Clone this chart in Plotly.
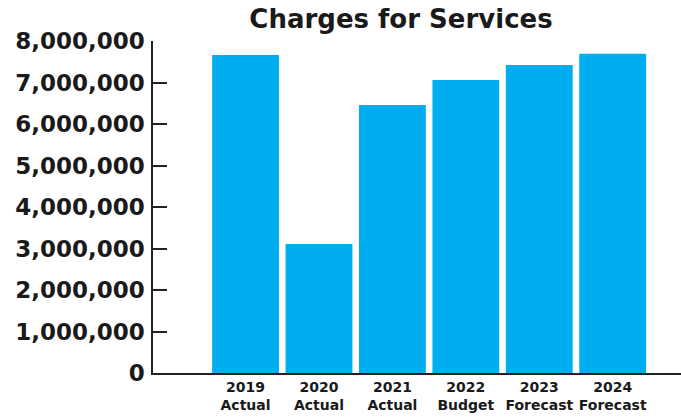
import plotly.graph_objects as go

years = ["2019", "2020", "2021", "2022", "2023", "2024"]
kinds = ["Actual", "Actual", "Actual", "Budget", "Forecast", "Forecast"]
values = [7660000, 3110000, 6460000, 7060000, 7420000, 7690000]
yticks = [0, 1000000, 2000000, 3000000, 4000000, 5000000, 6000000, 7000000, 8000000]
ytick_text = ["0", "1,000,000", "2,000,000", "3,000,000", "4,000,000",
              "5,000,000", "6,000,000", "7,000,000", "8,000,000"]

cats = [f"{y}<br>{k}" for y, k in zip(years, kinds)]

fig = go.Figure(go.Bar(x=cats, y=values, marker=dict(color="#00AEEF", line=dict(width=0))))

FONT = "'DejaVu Sans', sans-serif"
fig.update_layout(
    width=681, height=420,
    margin=dict(l=153, r=0, t=41, b=47, autoexpand=False),
    paper_bgcolor="white", plot_bgcolor="white",
    bargap=0.09,
    showlegend=False,
    title=dict(text="<b>Charges for Services</b>", x=401/681, xanchor="center",
               y=1 - 19/420, yanchor="middle", xref="container",
               font=dict(family=FONT, size=26, color="#1a1a1a")),
    font=dict(family=FONT, color="#1a1a1a"),
)
fig.update_xaxes(
    type="category", range=[-1.26, 5.93], automargin=False,
    showline=True, linecolor="#222", linewidth=1.5,
    ticks="", showgrid=False,
    tickfont=dict(family=FONT, size=14, color="#1a1a1a", weight="bold"),
)
fig.update_yaxes(
    range=[0, 8000000], tickvals=yticks, ticktext=ytick_text, automargin=False,
    showline=True, linecolor="#222", linewidth=1.5,
    ticks="inside", ticklen=14, tickcolor="#222", tickwidth=1.5,
    showgrid=False, zeroline=False,
    ticklabelstandoff=2,
    tickfont=dict(family=FONT, size=23, color="#1a1a1a", weight="bold"),
)

fig.write_html("out.html", post_script="document.body.style.margin='0';",
               config={"displayModeBar": False})
